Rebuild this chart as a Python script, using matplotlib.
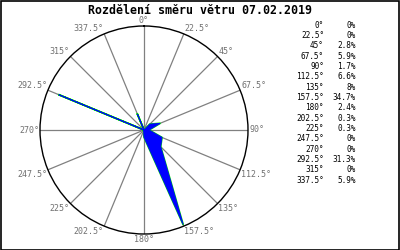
import numpy as np
import matplotlib
matplotlib.use("Agg")
import matplotlib.pyplot as plt
from matplotlib.patches import Rectangle

title = "Rozdělení směru větru 07.02.2019"
directions = [0, 22.5, 45, 67.5, 90, 112.5, 135, 157.5, 180, 202.5, 225, 247.5, 270, 292.5, 315, 337.5]
dir_labels = ["0°", "22.5°", "45°", "67.5°", "90°", "112.5°", "135°", "157.5°", "180°",
              "202.5°", "225°", "247.5°", "270°", "292.5°", "315°", "337.5°"]
percents = [0, 0, 2.8, 5.9, 1.7, 6.6, 8, 34.7, 2.4, 0.3, 0.3, 0, 0, 31.3, 0, 5.9]
pct_labels = ["0%", "0%", "2.8%", "5.9%", "1.7%", "6.6%", "8%", "34.7%", "2.4%",
              "0.3%", "0.3%", "0%", "0%", "31.3%", "0%", "5.9%"]

rmax = 35.3

fig = plt.figure(figsize=(4, 2.5), dpi=100)
fig.patch.set_facecolor("white")
fig.patches.append(Rectangle((0.0015, 0.002), 0.996, 0.994, transform=fig.transFigure,
                             fill=False, edgecolor="black", linewidth=1.2))

ax = fig.add_axes([40/400, (250-234)/250, 208/400, 208/250], projection="polar")
ax.set_theta_zero_location("N")
ax.set_theta_direction(-1)
ax.set_ylim(0, rmax)
ax.grid(False)
ax.set_xticks([])
ax.set_yticks([])
ax.spines["polar"].set_color("black")
ax.spines["polar"].set_linewidth(1.0)
ax.patch.set_alpha(0)

theta = np.deg2rad(directions)
for t in theta:
    ax.plot([t, t], [0, rmax], color="#808080", lw=0.9, zorder=1)

tc = np.append(theta, theta[0])
rc = np.append(percents, percents[0])
ax.plot(tc, rc, color="#00dd00", lw=1.3, zorder=2)
ax.fill(tc, rc, color="#0000ff", lw=0.6, edgecolor="#0000ff", zorder=3)

for d, lab in zip(directions, dir_labels):
    t = np.deg2rad(d)
    s, c = np.sin(t), np.cos(t)
    ha = "center" if abs(s) < 1e-6 else ("left" if s > 0 else "right")
    va = "center" if abs(c) < 1e-6 else ("bottom" if c > 0 else "top")
    ax.text(t, rmax * 1.01, lab, ha=ha, va=va, fontsize=6, color="#707070",
            family="DejaVu Sans Mono", zorder=5)

fig.text(0.5, 1 - 10/250, title, ha="center", va="center", fontsize=8.4,
         fontweight="bold", family="DejaVu Sans Mono", color="black")

for i, (dl, pl) in enumerate(zip(dir_labels, pct_labels)):
    y = 1 - (25 + i * 10.35) / 250
    fig.text(324/400, y, dl, ha="right", va="center", fontsize=5.6,
             family="DejaVu Sans Mono", color="black")
    fig.text(356/400, y, pl, ha="right", va="center", fontsize=5.6,
             family="DejaVu Sans Mono", color="black")

fig.savefig("out.png", dpi=100, facecolor="white")
